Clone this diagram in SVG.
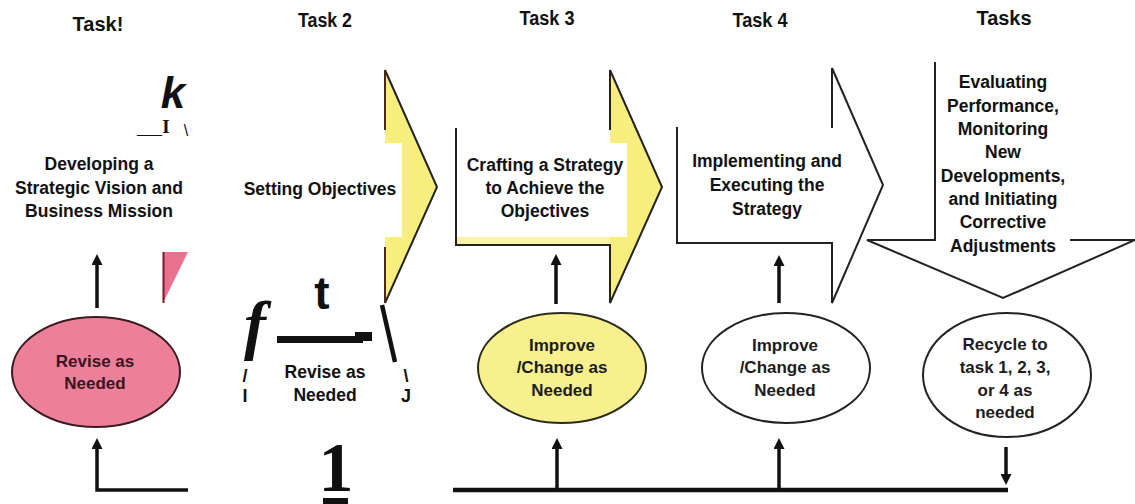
<svg xmlns="http://www.w3.org/2000/svg" width="1135" height="504" viewBox="0 0 1135 504">
<style>
  .t { font-family: "Liberation Sans", Arial, sans-serif; font-weight: bold; font-size: 17.5px; fill: #111; text-anchor: middle; }
  .h { font-family: "Liberation Sans", Arial, sans-serif; font-weight: bold; font-size: 20px; fill: #111; text-anchor: middle; }
  .e { font-family: "Liberation Sans", Arial, sans-serif; font-weight: bold; font-size: 17px; fill: #1c1c1c; text-anchor: middle; }
  .s { font-family: "Liberation Sans", Arial, sans-serif; font-weight: bold; font-size: 18px; fill: #111; text-anchor: middle; }
  .ol { fill: none; stroke: #222; stroke-width: 2; stroke-linejoin: miter; }
  .conn { fill: none; stroke: #111; stroke-width: 3.5; }
</style>
<defs>
  <marker id="ah" viewBox="0 0 11 11" refX="2" refY="5.5" markerWidth="11" markerHeight="11" markerUnits="userSpaceOnUse" orient="auto">
    <path d="M0,0 L11,5.5 L0,11 z" fill="#111"/>
  </marker>
</defs>
<rect width="1135" height="504" fill="#fff"/>

<g id="headers">
  <text class="h" x="98" y="31" font-size="21">Task!</text>
  <text class="h" x="325" y="27" textLength="54" lengthAdjust="spacingAndGlyphs">Task 2</text>
  <text class="h" x="547" y="25" textLength="55" lengthAdjust="spacingAndGlyphs">Task 3</text>
  <text class="h" x="760" y="27" textLength="55" lengthAdjust="spacingAndGlyphs">Task 4</text>
  <text class="h" x="1004" y="25" textLength="55" lengthAdjust="spacingAndGlyphs">Tasks</text>
</g>

<g id="task1">
  <text x="173" y="108" font-family="Liberation Sans, Arial, sans-serif" font-weight="bold" font-style="italic" font-size="44" fill="#111" text-anchor="middle">k</text>
  <text x="137" y="133" font-family="Liberation Sans, Arial, sans-serif" font-weight="bold" font-size="20" fill="#111" textLength="25" lengthAdjust="spacingAndGlyphs">__</text>
  <text x="166" y="133" font-family="Liberation Serif, Times New Roman, serif" font-weight="bold" font-size="19" fill="#111" text-anchor="middle">I</text>
  <text x="186" y="136" font-family="Liberation Sans, Arial, sans-serif" font-size="16" fill="#111" text-anchor="middle">\</text>
  <text class="t" x="99" y="170">Developing a</text>
  <text class="t" x="99" y="194">Strategic Vision and</text>
  <text class="t" x="99" y="217">Business Mission</text>
  <polygon points="163,252 188,252 163,303" fill="#e9728f"/>
  <line x1="163.5" y1="252" x2="163.5" y2="303" stroke="#7a1530" stroke-width="2"/>
</g>

<g id="revise1">
  <ellipse cx="96" cy="372" rx="84" ry="55" fill="#ec7f9a" stroke="#3b1b20" stroke-width="2"/>
  <text class="e" x="95" y="367" style="fill:#3a1420">Revise as</text>
  <text class="e" x="95" y="389" style="fill:#3a1420">Needed</text>
</g>

<g id="task2">
  <polygon points="385,70 437,187 385,303" fill="#f7ee7e"/>
  <polyline class="ol" points="385,70 437,187 385,303"/>
  <line x1="385" y1="70" x2="385" y2="130" stroke="#4a2a10" stroke-width="2"/>
  <line x1="385" y1="247" x2="385" y2="303" stroke="#4a2a10" stroke-width="2"/>
  <rect x="230" y="143" width="172" height="94" fill="#fff"/>
  <text class="t" x="320" y="195">Setting Objectives</text>
</g>

<g id="revise2">
  <text x="322" y="309" font-family="Liberation Sans, Arial, sans-serif" font-weight="bold" font-size="46" fill="#111" text-anchor="middle">t</text>
  <text x="255" y="347" font-family="Liberation Serif, Times New Roman, serif" font-weight="bold" font-style="italic" font-size="66" fill="#111" text-anchor="middle">f</text>
  <rect x="277" y="336" width="86" height="7" fill="#111"/>
  <rect x="355" y="332" width="17" height="9" fill="#111"/>
  <line x1="382" y1="305" x2="395" y2="362" stroke="#111" stroke-width="4.5"/>
  <text class="s" x="245" y="382" font-weight="normal" font-size="14">/</text>
  <text class="s" x="245" y="402">I</text>
  <text class="s" x="406" y="382" font-weight="normal" font-size="14">\</text>
  <text class="s" x="406" y="402">J</text>
  <text class="t" x="325" y="378">Revise as</text>
  <text class="t" x="325" y="401">Needed</text>
  <text x="336" y="491" font-family="Liberation Serif, Times New Roman, serif" font-weight="bold" font-size="70" fill="#111" text-anchor="middle">1</text>
  <rect x="323" y="498" width="25" height="6" fill="#111"/>
</g>

<g id="task3">
  <polygon points="610,70 662,187 610,303" fill="#f7ee7e"/>
  <rect x="456" y="237" width="154" height="8" fill="#f9f3a6"/>
  <rect x="458" y="143" width="169" height="94" fill="#fff"/>
  <polyline class="ol" points="610,70 662,187 610,303 610,245 456,245 456,128"/>
  <line class="ol" x1="610" y1="70" x2="610" y2="130"/>
  <text class="t" x="545" y="171">Crafting a Strategy</text>
  <text class="t" x="545" y="194">to Achieve the</text>
  <text class="t" x="545" y="217">Objectives</text>
</g>

<g id="improve3">
  <ellipse cx="562" cy="368" rx="84" ry="55" fill="#f8f08e" stroke="#2a2a1a" stroke-width="2"/>
  <text class="e" x="562" y="351">Improve</text>
  <text class="e" x="562" y="373">/Change as</text>
  <text class="e" x="562" y="396">Needed</text>
</g>

<g id="task4">
  <polyline class="ol" points="832,68 883,185 832,303 832,243 677,243 677,127"/>
  <line class="ol" x1="832" y1="68" x2="832" y2="128"/>
  <text class="t" x="767" y="167">Implementing and</text>
  <text class="t" x="767" y="191">Executing the</text>
  <text class="t" x="767" y="215">Strategy</text>
</g>

<g id="improve4">
  <ellipse cx="786" cy="368" rx="84" ry="55" fill="#fff" stroke="#222" stroke-width="2"/>
  <text class="e" x="785" y="351">Improve</text>
  <text class="e" x="785" y="373">/Change as</text>
  <text class="e" x="785" y="396">Needed</text>
</g>

<g id="task5">
  <polyline class="ol" points="935,62 935,240 867,240 1003,298 1135,240"/>
  <line class="ol" x1="1070" y1="240" x2="1135" y2="240"/>
  <text class="t" x="1003" y="88">Evaluating</text>
  <text class="t" x="1003" y="112">Performance,</text>
  <text class="t" x="1003" y="135">Monitoring</text>
  <text class="t" x="1003" y="158">New</text>
  <text class="t" x="1003" y="182">Developments,</text>
  <text class="t" x="1003" y="205">and Initiating</text>
  <text class="t" x="1003" y="228">Corrective</text>
  <text class="t" x="1003" y="252">Adjustments</text>
</g>

<g id="recycle">
  <ellipse cx="1007" cy="375" rx="84" ry="62" fill="#fff" stroke="#222" stroke-width="2"/>
  <text class="e" x="1005" y="350">Recycle to</text>
  <text class="e" x="1005" y="373">task 1, 2, 3,</text>
  <text class="e" x="1005" y="396">or 4 as</text>
  <text class="e" x="1005" y="418">needed</text>
</g>

<g id="connectors">
  <line class="conn" x1="97" y1="308" x2="97" y2="263" marker-end="url(#ah)"/>
  <path class="conn" d="M188,490 H97 V447" marker-end="url(#ah)"/>
  <line class="conn" x1="556" y1="304" x2="556" y2="263" marker-end="url(#ah)"/>
  <line class="conn" x1="779" y1="303" x2="779" y2="264" marker-end="url(#ah)"/>
  <line x1="453" y1="490" x2="1008" y2="490" stroke="#111" stroke-width="4.5"/>
  <line class="conn" x1="557" y1="490" x2="557" y2="447" marker-end="url(#ah)"/>
  <line class="conn" x1="779" y1="490" x2="779" y2="447" marker-end="url(#ah)"/>
  <line class="conn" x1="1006" y1="447" x2="1006" y2="476" marker-end="url(#ah)"/>
</g>
</svg>
